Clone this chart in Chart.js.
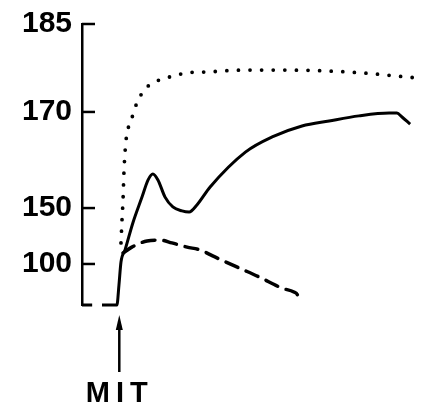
<!DOCTYPE html>
<html>
<head>
<meta charset="utf-8">
<script src="https://cdn.jsdelivr.net/npm/chart.js@4.4.1/dist/chart.umd.min.js"></script>
<style>
    body { margin: 0; background: #fff; }
    #chartContainer { width: 424px; height: 413px; position: relative; }
</style>
</head>
<body>
<div id="chartContainer"><canvas id="mitChart"></canvas></div>
<script>
// y axis is read as % of the drawn scale height (0 = bottom, 100 = top tick)
const yTickPositions = [14.6, 34.5, 68.7, 100];
const yTickLabels = ["100", "150", "170", "185"];

// x is time in arbitrary units, MIT given at 0
const mitTime = 0;
const mitLabel = "MIT";

// solid curve (with the pre-MIT baseline, gap at -6.5)
const solidX = [-11, -8, -6.5, -5.1, -0.7, -0.1, 0.5, 1.7, 4.0, 6.7, 8.5, 9.9, 11.4, 13.5, 15.8, 18.5, 20.6, 22.9, 26.8, 37.2, 45.1, 53.9, 61.9, 70.7, 79.6, 81.9, 83.4, 85.8];
const solidY = [0, 0, null, 0, 0, 7.1, 15.3, 19.6, 29.2, 38.4, 44.5, 46.6, 44.5, 38.4, 34.9, 33.5, 33.1, 35.6, 42.0, 54.4, 59.8, 63.7, 65.5, 67.3, 68.3, 68.3, 66.9, 64.4];

// dotted curve
const dottedX = [0.5, 0.8, 1.1, 1.4, 2.0, 2.9, 3.7, 4.6, 6.7, 8.5, 11.1, 13.5, 16.4, 19.4, 25.3, 36.2, 50.1, 60.7, 71.6, 81.7, 87.8];
const dottedY = [22.1, 30.2, 37.4, 48.0, 58.7, 64.1, 66.5, 70.1, 75.4, 77.9, 79.7, 80.8, 81.5, 82.6, 82.9, 83.6, 83.6, 83.3, 82.6, 81.5, 80.8];

// dashed curve
const dashedX = [1.1, 3.7, 8.2, 12.0, 15.5, 20.0, 23.8, 28.2, 35.3, 41.2, 48.0, 51.5, 52.7, 53.0];
const dashedY = [18.5, 20.6, 22.8, 23.1, 22.1, 20.6, 19.6, 17.1, 13.2, 10.0, 6.0, 4.6, 3.2, 1.1];

function toPoints(xs, ys) {
    let pts = [];
    for (let i = 0; i < xs.length; i++) {
        pts.push({x: xs[i], y: ys[i]});
    }
    return pts;
}

// inward y ticks, arrow and "MIT" under the injection time
const mitMarker = {
    id: 'mitMarker',
    afterDraw(chart) {
        const ctx = chart.ctx;
        const yScale = chart.scales.y;
        const left = chart.chartArea.left;
        const xPix = chart.scales.x.getPixelForValue(mitTime);
        const bottom = chart.chartArea.bottom;
        const tipY = bottom + 10;
        const tailY = bottom + 67;

        ctx.save();
        ctx.strokeStyle = '#000';
        ctx.fillStyle = '#000';
        ctx.lineWidth = 2.5;

        yTickPositions.forEach(function(v) {
            let y = yScale.getPixelForValue(v);
            ctx.beginPath();
            ctx.moveTo(left, y);
            ctx.lineTo(left + 13, y);
            ctx.stroke();
        });

        ctx.beginPath();
        ctx.moveTo(xPix, tipY + 8);
        ctx.lineTo(xPix, tailY);
        ctx.stroke();

        ctx.beginPath();
        ctx.moveTo(xPix, tipY);
        ctx.lineTo(xPix - 3.5, tipY + 15);
        ctx.lineTo(xPix + 3.5, tipY + 15);
        ctx.closePath();
        ctx.fill();

        ctx.font = 'bold 29px "Liberation Sans", Arial, sans-serif';
        ctx.letterSpacing = '6px';
        ctx.textAlign = 'center';
        ctx.textBaseline = 'middle';
        ctx.fillText(mitLabel, xPix + 0.5, bottom + 89);
        ctx.restore();
    }
};

const lineBase = {
    pointRadius: 0,
    borderColor: '#000',
    fill: false,
    clip: false,
    cubicInterpolationMode: 'monotone',
    spanGaps: false
};

const ctx = document.getElementById('mitChart').getContext('2d');
new Chart(ctx, {
    type: 'line',
    data: {
        datasets: [
            Object.assign({}, lineBase, {
                label: 'solid',
                data: toPoints(solidX, solidY),
                borderWidth: 3
            }),
            Object.assign({}, lineBase, {
                label: 'dotted',
                data: toPoints(dottedX, dottedY),
                borderWidth: 3.8,
                borderDash: [0, 11.6],
                borderCapStyle: 'round'
            }),
            Object.assign({}, lineBase, {
                label: 'dashed',
                data: toPoints(dashedX, dashedY),
                borderWidth: 3.5,
                borderDash: [13, 9],
                borderCapStyle: 'round'
            })
        ]
    },
    options: {
        responsive: true,
        maintainAspectRatio: false,
        animation: false,
        layout: {
            padding: {top: 24, right: 3, bottom: 108, left: 0}
        },
        plugins: {
            legend: {display: false},
            tooltip: {enabled: false}
        },
        scales: {
            x: {
                type: 'linear',
                min: -11,
                max: 89,
                display: false
            },
            y: {
                type: 'linear',
                min: 0,
                max: 100,
                afterFit: function(scale) {
                    scale.width = 82;
                    scale.paddingTop = 0;
                    scale.paddingBottom = 0;
                },
                afterBuildTicks: function(scale) {
                    scale.ticks = yTickPositions.map(function(v) { return {value: v}; });
                },
                border: {display: true, color: '#000', width: 2.5},
                grid: {display: false, drawTicks: false},
                ticks: {
                    color: '#000',
                    padding: 10,
                    font: {family: '"Liberation Sans", Arial, sans-serif', size: 30, weight: 'bold'},
                    callback: function(value) {
                        let idx = yTickPositions.indexOf(value);
                        return idx >= 0 ? yTickLabels[idx] : '';
                    }
                }
            }
        }
    },
    plugins: [mitMarker]
});
</script>
</body>
</html>
